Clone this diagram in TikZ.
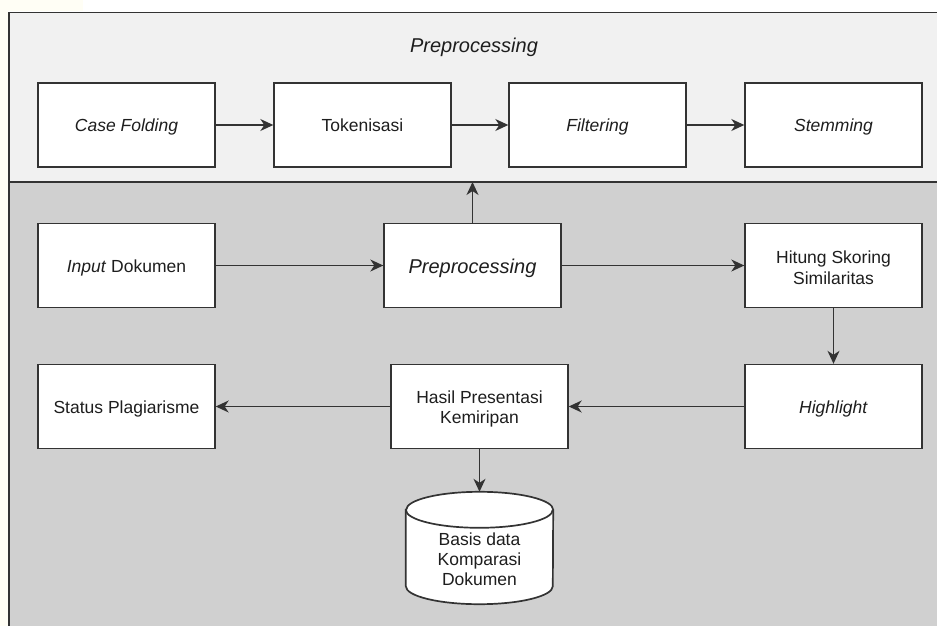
\documentclass[tikz,border=0pt]{standalone}
\usepackage{fontspec}
\setmainfont{Liberation Sans}
\usetikzlibrary{arrows.meta}
\definecolor{cream}{HTML}{FFFEF5}
\definecolor{topband}{HTML}{F1F1F1}
\definecolor{lowband}{HTML}{D0D0D0}
\definecolor{edge}{HTML}{333333}
\definecolor{txt}{HTML}{1E1E1E}
\newcommand{\highstrut}{\rule{0pt}{17.5pt}}
\tikzset{
  box/.style={draw=edge, line width=1.4pt, fill=white, minimum width=177pt, minimum height=84pt,
    inner sep=0pt, text=txt, font=\fontsize{17.5}{20.5}\selectfont, text height=13pt, text depth=0pt},
  twoline/.style={box, align=center, text height=, text depth=},
  bigline/.style={font=\fontsize{20}{24}\selectfont, text height=15.6pt, text depth=0pt},
  conn/.style={draw=edge, line width=1.4pt, -{Stealth[length=13pt,width=12pt,inset=4pt]}},
  band/.style={draw=edge, line width=1.7pt},
}
\begin{document}
\begin{tikzpicture}[x=1pt,y=-1pt]
\useasboundingbox (0,0) rectangle (937,626);
\clip (0,0) rectangle (937,626);
\fill[white] (0,0) rectangle (937,626);
\fill[cream] (0,0) rectangle (8,626);
\fill[cream] (0,0) rectangle (83,11);
% bands
\filldraw[band, fill=lowband] (9,182) rectangle (950,640);
\filldraw[band, fill=topband] (9,12.5) rectangle (950,182);
\node[text=txt, bigline, inner sep=0pt] (title) at (474,45) {\textit{Preprocessing}};
% top row
\node[box] (cf) at (126.5,125) {\textit{Case Folding}};
\node[box] (tok) at (362.5,125) {Tokenisasi};
\node[box] (fil) at (597.5,125) {\textit{Filtering}};
\node[box] (stem) at (833.5,125) {\textit{Stemming}};
% middle row
\node[box] (inp) at (126.5,265.5) {\textit{Input} Dokumen};
\node[box, bigline] (pre) at (472.5,265.5) {\textit{Preprocessing}};
\node[twoline] (hit) at (833.5,265.5) {\highstrut Hitung Skoring\\Similaritas};
% bottom row
\node[box] (hl) at (833.5,406.5) {\textit{Highlight}};
\node[twoline] (hasil) at (479.5,406.5) {\highstrut Hasil Presentasi\\Kemiripan};
\node[box] (stat) at (126.5,406.5) {Status Plagiarisme};
% database cylinder
\node[minimum width=147pt, minimum height=112pt, inner sep=0pt] (db) at (479.5,548) {};
\filldraw[draw=edge, line width=1.7pt, fill=white]
  ([yshift=-18pt]db.north west) -- ([yshift=18pt]db.south west)
  arc[start angle=180, end angle=360, x radius=73.5pt, y radius=18pt]
  -- ([yshift=-18pt]db.north east)
  arc[start angle=0, end angle=180, x radius=73.5pt, y radius=18pt] -- cycle;
\draw[draw=edge, line width=1.7pt] ([yshift=-18pt]db.north west)
  arc[start angle=180, end angle=360, x radius=73.5pt, y radius=18pt];
\node[text=txt, align=center, font=\fontsize{17.5}{20}\selectfont] (dbtext) at (479.5,559) {Basis data\\Komparasi\\Dokumen};
% connectors
\coordinate (divtop) at (472.5,182);
\draw[conn] (cf) -- (tok);
\draw[conn] (tok) -- (fil);
\draw[conn] (fil) -- (stem);
\draw[conn] (inp) -- (pre);
\draw[conn] (pre) -- (hit);
\draw[conn] (pre.north) -- (divtop);
\draw[conn] (hit) -- (hl);
\draw[conn] (hl) -- (hasil);
\draw[conn] (hasil) -- (stat);
\draw[conn] (hasil.south) -- (db.north);
\end{tikzpicture}
\end{document}
